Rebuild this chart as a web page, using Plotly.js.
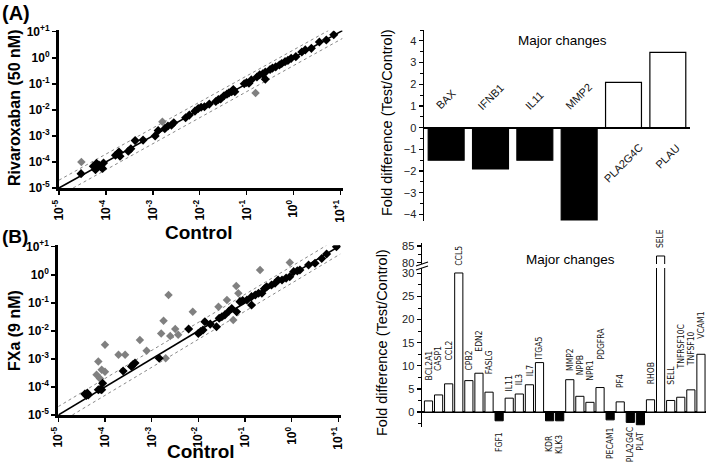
<!DOCTYPE html>
<html>
<head>
<meta charset="utf-8">
<script src="https://cdn.plot.ly/plotly-3.0.1.min.js"></script>
<style>html,body{margin:0;padding:0;background:#fff;}#chart{width:709px;height:463px;}</style>
</head>
<body>
<div id="chart"></div>
<script>
// ---------- data ----------
const aBlackX = [2.95e-5,5.4e-5,6.0e-5,7.1e-5,7.9e-5,8.9e-5,6.3e-5,8.5e-5,1.6e-4,1.8e-4,2.0e-4,1.9e-4,3.0e-4,3.4e-4,4.2e-4,6.2e-4,1.12e-3,1.3e-3,1.8e-3,2.1e-3,2.5e-3,2.8e-3,5.0e-3,6.0e-3,7.9e-3,9.3e-3,1.07e-2,1.26e-2,1.6e-2,2.2e-2,2.5e-2,2.8e-2,3.3e-2,3.8e-2,4.2e-2,4.8e-2,5.2e-2,5.6e-2,8.9e-2,0.1,0.112,0.126,0.166,0.19,0.22,0.25,0.25,0.316,0.355,0.417,0.5,0.56,0.66,0.76,0.89,1.12,1.5,1.78,2.4,3.55,5.0,7.2];
const aBlackY = [3.55e-5,6.8e-5,5.0e-5,7.6e-5,6.3e-5,9.1e-5,8.9e-5,5.6e-5,1.8e-4,2.1e-4,1.66e-4,2.4e-4,2.6e-4,3.2e-4,6.6e-4,6.9e-4,1.0e-3,1.6e-3,1.9e-3,2.4e-3,2.6e-3,3.2e-3,5.0e-3,6.3e-3,8.9e-3,1.12e-2,1.26e-2,1.32e-2,1.66e-2,2.1e-2,2.5e-2,2.6e-2,3.5e-2,4.0e-2,4.5e-2,5.0e-2,6.0e-2,5.0e-2,0.1,0.112,0.105,0.141,0.182,0.224,0.24,0.151,0.28,0.355,0.398,0.447,0.525,0.6,0.71,0.79,0.95,1.1,1.66,2.0,2.3,4.0,4.8,7.6];
const aGreyX = [3.0e-5,1.6e-3,0.155];
const aGreyY = [1.0e-4,3.5e-3,0.044];

const bBlackX = [3.7e-5,4.0e-5,4.2e-5,4.4e-5,7.2e-5,7.9e-5,8.5e-5,8.9e-5,2.45e-4,3.7e-4,4.0e-4,4.4e-4,1.45e-3,6.2e-3,1.0e-2,1.12e-2,1.26e-2,1.38e-2,1.8e-2,2.45e-2,2.8e-2,3.2e-2,3.7e-2,4.5e-2,5.2e-2,6.6e-2,7.8e-2,8.9e-2,0.11,0.138,0.138,0.166,0.195,0.23,0.26,0.29,0.37,0.44,0.51,0.62,0.76,0.91,1.1,1.32,1.5,2.3,3.16,4.4,5.6,9.1];
const bBlackY = [5.6e-5,5.0e-5,6.0e-5,5.2e-5,7.9e-5,8.3e-5,7.9e-5,1.35e-4,3.7e-4,5.4e-4,6.3e-4,7.1e-4,1.05e-3,1.17e-2,8.1e-3,9.5e-3,1.07e-2,2.1e-2,1.74e-2,1.4e-2,2.8e-2,3.2e-2,3.7e-2,5.0e-2,6.3e-2,4.8e-2,0.11,0.12,0.126,8.3e-2,0.166,0.19,0.22,0.22,0.316,0.37,0.43,0.5,0.65,0.65,0.76,0.85,1.29,1.38,1.48,2.24,2.57,3.8,5.5,10.0];
const bGreyX = [6.6e-5,7.2e-5,7.8e-5,8.5e-5,1.0e-4,1.0e-4,1.95e-4,2.7e-4,5.6e-4,7.8e-4,1.6e-3,1.8e-3,2.3e-3,2.0e-3,2.5e-3,3.2e-3,3.7e-3,7.6e-3,2.7e-2,4.1e-2,5.6e-2,6.5e-2,7.2e-2,0.21,0.91];
const bGreyY = [2.7e-4,8.1e-4,2.0e-4,4.1e-4,3.2e-3,3.5e-4,1.4e-3,1.4e-3,4.7e-3,1.95e-3,8.1e-3,2.3e-2,0.19,1.05e-3,6.6e-3,1.17e-2,7.2e-3,4.8e-2,7.2e-2,0.126,2.45e-2,0.4,0.22,1.48,2.75];

const diagX = [1e-5, 11], diagY = [1e-5, 11];
const upperX = [1e-5, 5.5], upperY = [2e-5, 11];
const lowerX = [2e-5, 11], lowerY = [1e-5, 5.5];

const logTickVals = [1e-5,1e-4,1e-3,1e-2,1e-1,1,10];
const logTickText = ['10<sup>-5</sup>','10<sup>-4</sup>','10<sup>-3</sup>','10<sup>-2</sup>','10<sup>-1</sup>','10<sup>0</sup>','10<sup>+1</sup>'];

const rivaGenes = ['BAX','IFNB1','IL11','MMP2','PLA2G4C','PLAU'];
const rivaFold = [-1.5,-1.9,-1.5,-4.25,2.09,3.47];

const fxaGenes = ['BCL2A1','CASP1','CCL2','CCL5','CPB2','EDN2','FASLG','FGF1','IL11','IL3','IL7','ITGA5','KDR','KLK3','MMP2','NPPB','NPR1','PDGFRA','PECAM1','PF4','PLA2G4C','PLAT','RHOB','SELE','SELL','TNFRSF10C','TNFSF10','VCAM1'];
const fxaFold = [2.4,3.7,6.1,30.1,6.8,8.4,4.3,-1.9,3.0,3.9,5.9,10.7,-1.9,-1.9,7.0,3.4,2.1,5.3,-1.7,2.2,-2.25,-2.75,2.65,82,2.5,3.2,4.8,12.5];
// label offsets (px) from bar end
const fxaLabelGap = [18,22,21,5,8,20,16,9,5,7,7,1,12,12,7,19,20,26,5,12,3,5,13,6,14,26,22,14];

// ---------- helpers ----------
const W = 709, H = 463;
const px = x => x / W;
const py = y => 1 - y / H;
const F = 'Liberation Sans, Arial, sans-serif';
const NARROW = 'Liberation Sans Narrow, Arial Narrow, DejaVu Sans Condensed, sans-serif';

function sc(x, y, color, size, xa, ya) {
  return {type:'scatter', mode:'markers', x:x, y:y, xaxis:xa, yaxis:ya,
    marker:{symbol:'diamond', color:color, size:size, line:{width:0}}, hoverinfo:'skip'};
}
function ln(x, y, xa, ya, dash, color, w) {
  return {type:'scatter', mode:'lines', x:x, y:y, xaxis:xa, yaxis:ya,
    line:{color:color, width:w, dash:dash}, hoverinfo:'skip'};
}

const traces = [];
// panel A scatter
traces.push(ln(upperX, upperY, 'x', 'y', 'dot', '#888', 1));
traces.push(ln(lowerX, lowerY, 'x', 'y', 'dot', '#888', 1));
traces.push(ln(diagX, diagY, 'x', 'y', 'solid', '#000', 1.6));
traces.push(sc(aGreyX, aGreyY, '#808080', 6.5, 'x', 'y'));
traces.push(sc(aBlackX, aBlackY, '#000', 7, 'x', 'y'));
// panel B scatter
traces.push(ln(upperX, upperY, 'x2', 'y2', 'dot', '#888', 1));
traces.push(ln(lowerX, lowerY, 'x2', 'y2', 'dot', '#888', 1));
traces.push(ln(diagX, diagY, 'x2', 'y2', 'solid', '#000', 1.6));
traces.push(sc(bGreyX, bGreyY, '#808080', 6.5, 'x2', 'y2'));
traces.push(sc(bBlackX, bBlackY, '#000', 7, 'x2', 'y2'));

// bars
const colorOf = v => v < 0 ? '#000' : '#fff';
traces.push({type:'bar', x:rivaGenes, y:rivaFold, xaxis:'x3', yaxis:'y3',
  marker:{color:rivaFold.map(colorOf), line:{color:'#000', width:1.2}}, hoverinfo:'skip'});
traces.push({type:'bar', x:fxaGenes, y:fxaFold, xaxis:'x4', yaxis:'y4',
  marker:{color:fxaFold.map(colorOf), line:{color:'#000', width:1}}, hoverinfo:'skip'});
traces.push({type:'bar', x:fxaGenes, y:fxaFold, xaxis:'x4', yaxis:'y5',
  marker:{color:fxaFold.map(colorOf), line:{color:'#000', width:1}}, hoverinfo:'skip'});

const tickFontBold = {family:F, size:12, color:'#000', weight:'bold'};
function logAxis(domain, anchor, isX) {
  const a = {type:'log', range:[-5, 1.05], domain:domain, anchor:anchor,
    tickmode:'array', tickvals:logTickVals, ticktext:logTickText,
    showline:true, linewidth:3, linecolor:'#000', mirror:false,
    ticks:'outside', ticklen:4, tickwidth:1.5, tickcolor:'#000',
    showgrid:false, zeroline:false, tickfont:tickFontBold, fixedrange:true};
  if (isX) a.tickangle = -90;
  return a;
}

const barTickFont = {family:F, size:11, color:'#222'};

const layout = {
  width:W, height:H, margin:{l:0, r:0, t:0, b:0},
  paper_bgcolor:'#fff', plot_bgcolor:'rgba(0,0,0,0)', showlegend:false,
  bargap:0.19,
  xaxis: logAxis([px(59), px(342.8)], 'y', true),
  yaxis: logAxis([py(188), py(30.4)], 'x', false),
  xaxis2: logAxis([px(58.3), px(340.7)], 'y2', true),
  yaxis2: logAxis([py(415), py(245.3)], 'x2', false),
  xaxis3: {domain:[px(424), px(690)], anchor:'y3', range:[-0.5, 5.5], type:'category',
    showline:false, showticklabels:false, ticks:'', showgrid:false, zeroline:false, fixedrange:true},
  yaxis3: {domain:[py(221), py(30)], anchor:'x3', range:[-4.3, 4.5],
    tickmode:'array', tickvals:[-4,-3,-2,-1,0,1,2,3,4],
    showline:true, linewidth:1.5, linecolor:'#000', ticks:'outside', ticklen:4, tickwidth:1.2, tickcolor:'#000',
    minor:{tickmode:'linear', tick0:0, dtick:0.5, ticks:'outside', ticklen:2.5, tickwidth:1, tickcolor:'#000'},
    showgrid:false, zeroline:true, zerolinecolor:'#000', zerolinewidth:2,
    tickfont:barTickFont, fixedrange:true},
  xaxis4: {domain:[px(422), px(706)], anchor:'y4', range:[-0.644, 27.5], type:'category',
    showline:false, showticklabels:false, ticks:'', showgrid:false, zeroline:false, fixedrange:true},
  yaxis4: {domain:[py(426.8), py(267.9)], anchor:'x4', range:[-3.2, 31.2],
    tickmode:'array', tickvals:[0,5,10,15,20,25,30],
    showline:true, linewidth:1.5, linecolor:'#000', ticks:'outside', ticklen:4, tickwidth:1.2, tickcolor:'#000',
    minor:{tickmode:'linear', tick0:0, dtick:2.5, ticks:'outside', ticklen:2.5, tickwidth:1, tickcolor:'#000'},
    showgrid:false, zeroline:true, zerolinecolor:'#000', zerolinewidth:1.6,
    tickfont:barTickFont, fixedrange:true},
  yaxis5: {domain:[py(264), py(243.3)], anchor:'x4', range:[79.6, 85.8],
    tickmode:'array', tickvals:[80,85],
    showline:true, linewidth:1.5, linecolor:'#000', ticks:'outside', ticklen:4, tickwidth:1.2, tickcolor:'#000',
    minor:{tickmode:'linear', tick0:0, dtick:2.5, ticks:'outside', ticklen:2.5, tickwidth:1, tickcolor:'#000'},
    showgrid:false, zeroline:false, tickfont:barTickFont, fixedrange:true},
  shapes: [
    {type:'line', xref:'paper', yref:'paper', x0:px(416), y0:py(266), x1:px(428), y1:py(262), line:{color:'#000', width:1.3}},
    {type:'line', xref:'paper', yref:'paper', x0:px(416), y0:py(270), x1:px(428), y1:py(266), line:{color:'#000', width:1.3}}
  ],
  annotations: []
};

const ann = layout.annotations;
function paperText(text, x, y, size, opts) {
  ann.push(Object.assign({text:text, xref:'paper', yref:'paper', x:px(x), y:py(y),
    xanchor:'center', yanchor:'middle', showarrow:false,
    font:{family:F, size:size, color:'#000'}}, opts || {}));
}
// panel letters and titles
paperText('<b>(A)</b>', 16, 13, 20);
paperText('<b>(B)</b>', 15, 236, 19);
paperText('<b>Rivaroxaban (50 nM)</b>', 14, 108, 16, {textangle:-90});
paperText('<b>FXa (9 nM)</b>', 14, 331, 16, {textangle:-90});
paperText('<b>Control</b>', 199, 233, 19);
paperText('<b>Control</b>', 201, 451, 19);
paperText('Fold difference (Test/Control)', 387, 123, 14.5, {textangle:-90});
paperText('Fold difference (Test/Control)', 382, 343, 14.5, {textangle:-90});
paperText('Major changes', 562, 41, 13.5);
paperText('Major changes', 570, 259, 13.5);

// top-right bar labels
rivaGenes.forEach((g, i) => {
  const neg = rivaFold[i] < 0;
  ann.push({text:g, xref:'x3', yref:'y3', x:g, y:0, showarrow:false, textangle:-45,
    xanchor:'center', yanchor: neg ? 'bottom' : 'top', yshift: neg ? 13 : -11,
    font:{family:F, size:11, color:'#111'}});
});
// bottom-right bar labels
fxaGenes.forEach((g, i) => {
  const v = fxaFold[i];
  const neg = v < 0;
  const upper = v > 31;
  ann.push({text:g, xref:'x4', yref: upper ? 'y5' : 'y4', x:g, y:v, showarrow:false, textangle:-90,
    xanchor:'center', yanchor: neg ? 'top' : 'bottom', yshift: neg ? -fxaLabelGap[i] : fxaLabelGap[i],
    font:{family:NARROW, size:8.5, color:'#111'}});
});

Plotly.newPlot('chart', traces, layout, {staticPlot:true, displayModeBar:false});
</script>
</body>
</html>
